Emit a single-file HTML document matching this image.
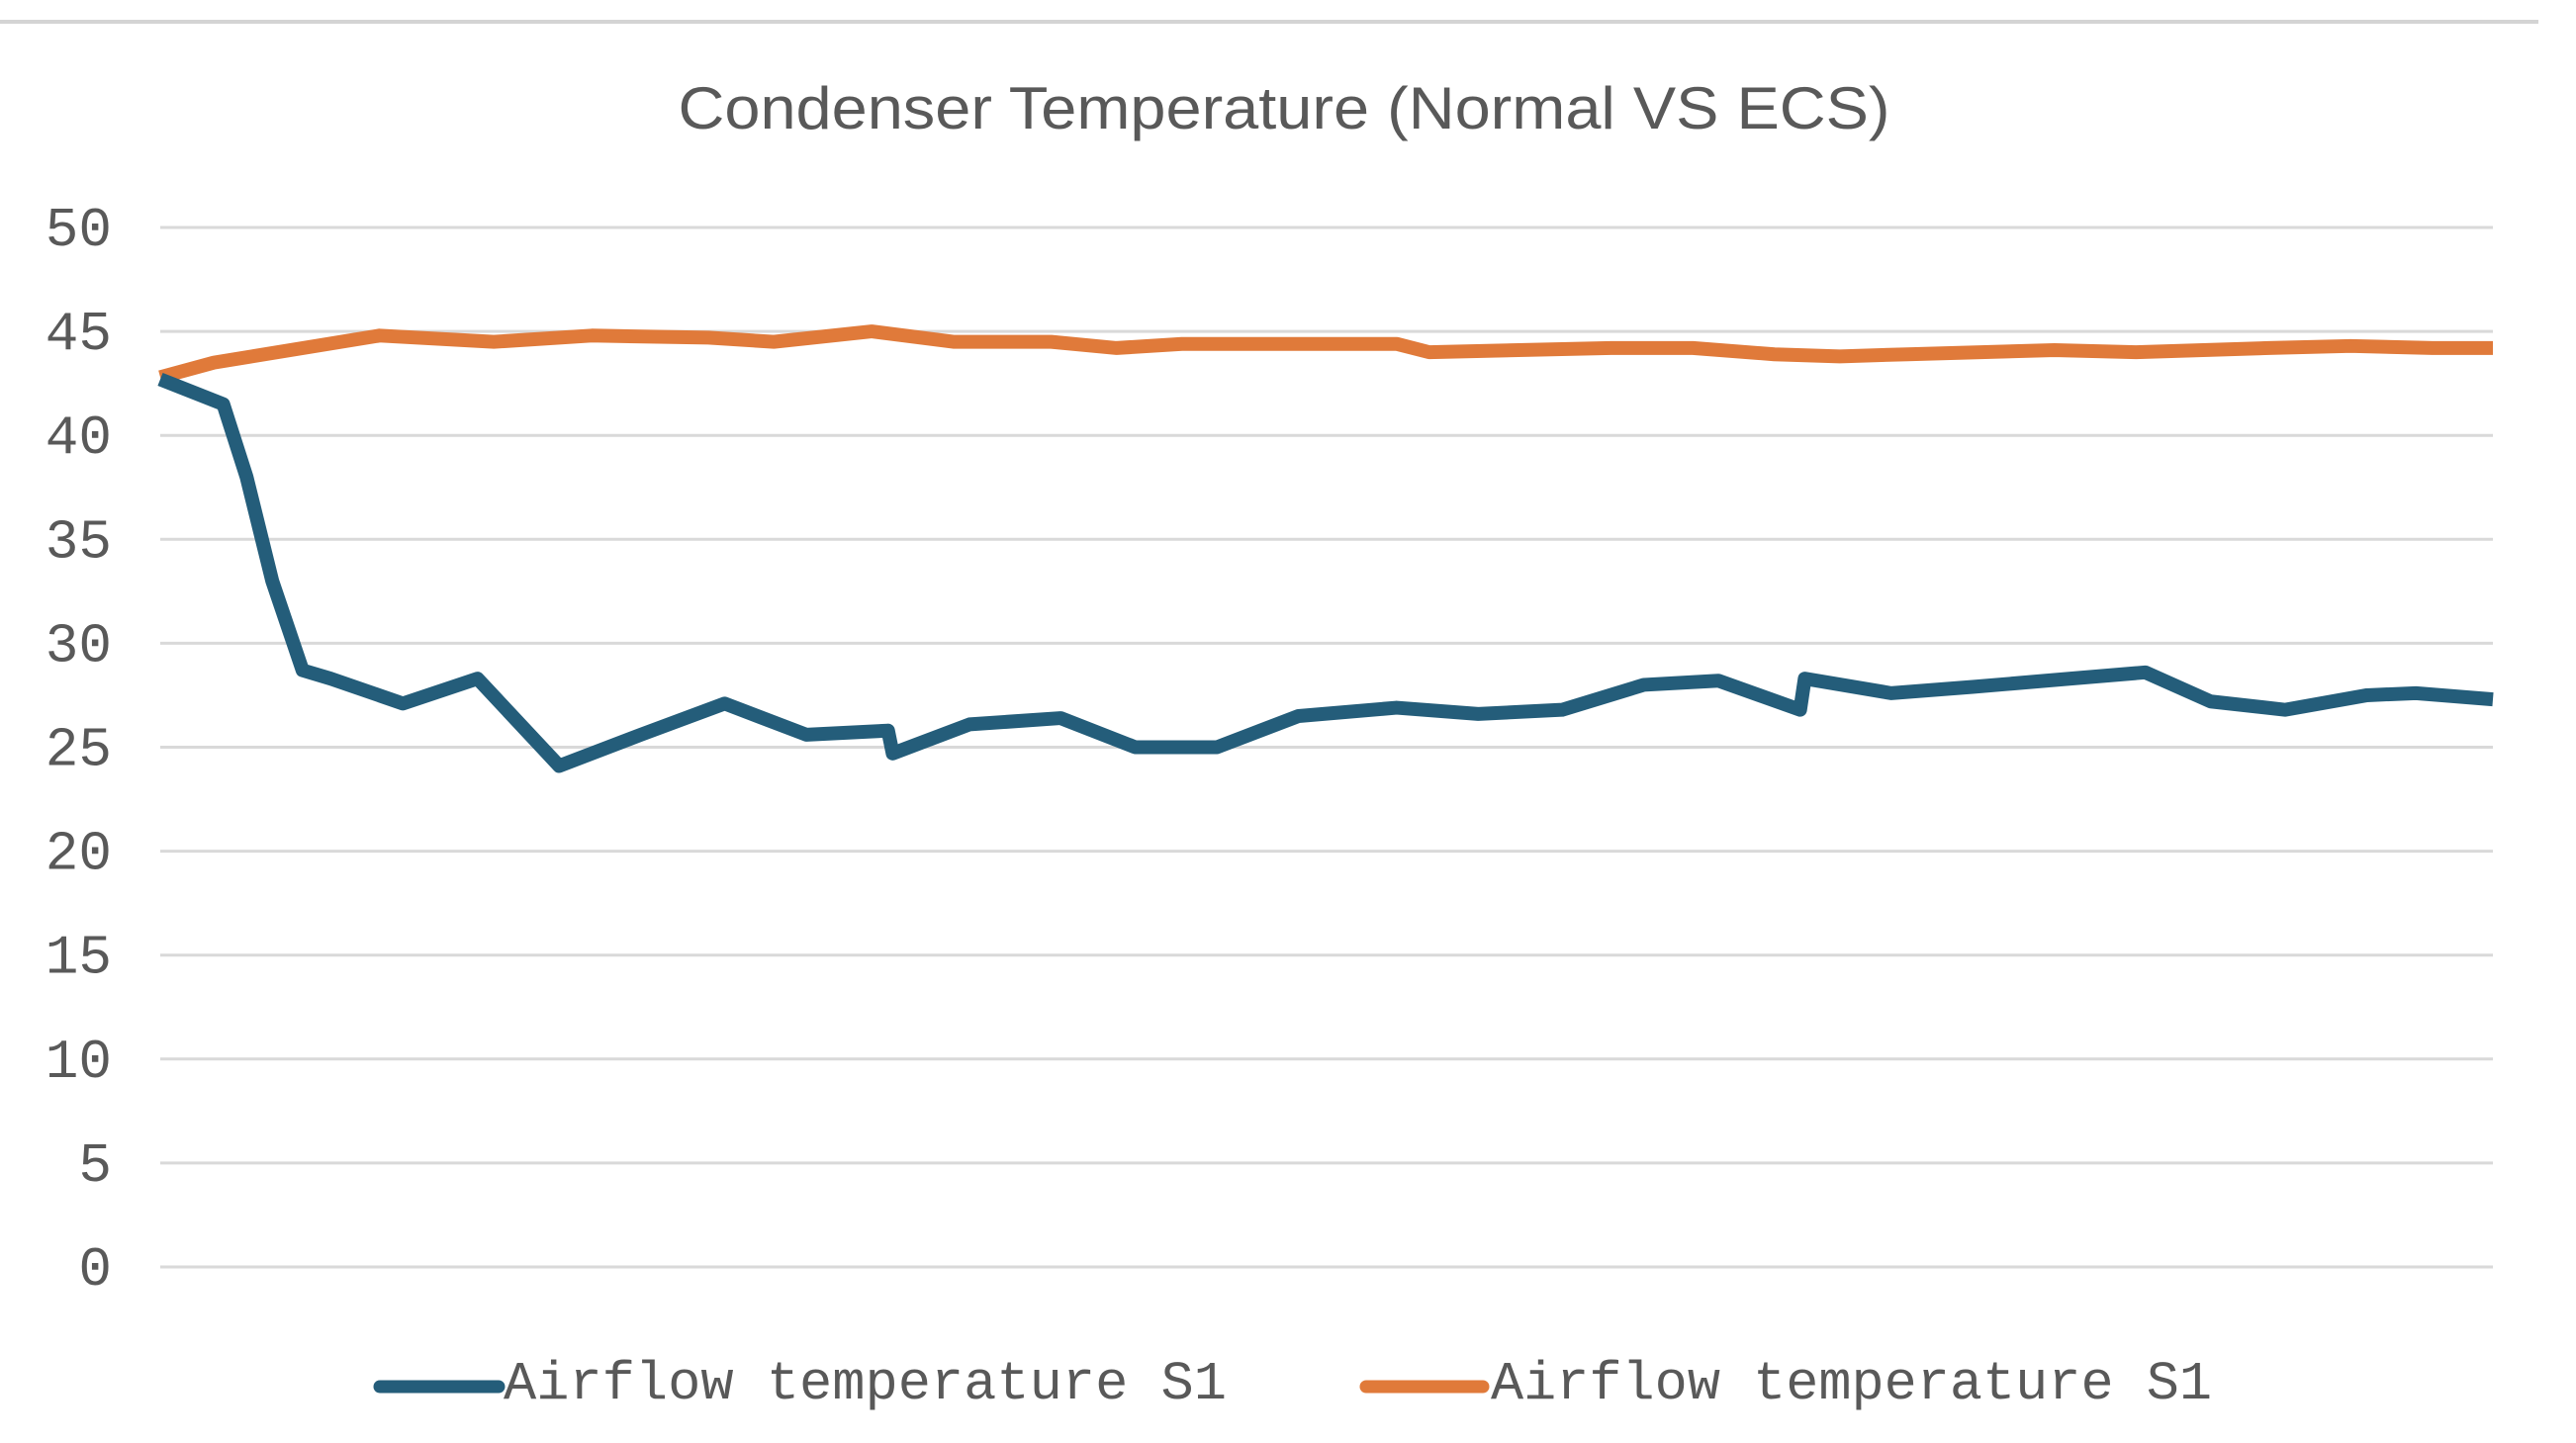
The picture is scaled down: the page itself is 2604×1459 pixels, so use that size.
<!DOCTYPE html>
<html><head><meta charset="utf-8"><style>
html,body{margin:0;padding:0;background:#fff;}
svg{display:block;}
</style></head><body>
<svg id="chart" width="2604" height="1459" viewBox="0 0 2604 1459" xmlns="http://www.w3.org/2000/svg">
<line x1="0" y1="22" x2="2566" y2="22" stroke="#d4d4d4" stroke-width="4"/>
<text x="1298" y="130" text-anchor="middle" font-family="'Liberation Sans', sans-serif" font-size="60" fill="#595959" textLength="1225" lengthAdjust="spacingAndGlyphs">Condenser Temperature (Normal VS ECS)</text>
<g id="grid"></g>
<g id="yticks"></g>
<g id="series"></g>
<g>
  <g>
    <line x1="384" y1="1402" x2="504" y2="1402" stroke="#245d7a" stroke-width="13" stroke-linecap="round"/>
    <text x="509" y="1414" font-family="'Liberation Mono', monospace" font-size="55" fill="#595959" textLength="731" lengthAdjust="spacingAndGlyphs">Airflow temperature S1</text>
  </g>
  <g>
    <line x1="1381" y1="1402" x2="1499" y2="1402" stroke="#e07a3a" stroke-width="13" stroke-linecap="round"/>
    <text x="1507" y="1414" font-family="'Liberation Mono', monospace" font-size="55" fill="#595959" textLength="729" lengthAdjust="spacingAndGlyphs">Airflow temperature S1</text>
  </g>
</g>
</svg>
<script>
const yTicks = [0,5,10,15,20,25,30,35,40,45,50];
const blueT = [0,2.7,3.7,4.8,6.1,7.3,10.4,13.6,17.1,20.6,24.2,27.7,31.2,31.4,34.7,38.6,41.8,45.3,48.8,53.0,56.5,60.1,63.6,66.8,70.3,70.5,74.2,77.7,81.9,85.1,87.9,91.1,94.6,96.7,100];
const blueV = [42.7,41.5,38,33,28.7,28.3,27.1,28.3,24.1,25.6,27.1,25.6,25.8,24.7,26.1,26.4,25.0,25.0,26.5,26.9,26.6,26.8,28.0,28.2,26.8,28.3,27.6,27.9,28.3,28.6,27.2,26.8,27.5,27.6,27.3];
const orangeT = [0,2.3,9.4,14.3,18.5,23.5,26.3,30.5,34.0,38.2,41.0,43.8,53.0,54.4,62.2,65.7,69.2,72.0,74.9,81.2,84.7,90.4,93.9,97.4,100];
const orangeV = [42.8,43.5,44.8,44.5,44.8,44.7,44.5,45.0,44.5,44.5,44.2,44.4,44.4,44.0,44.2,44.2,43.9,43.8,43.9,44.1,44.0,44.2,44.3,44.2,44.2];

const NS="http://www.w3.org/2000/svg";
const X0=162, X1=2520, Y0=1281, Y50=230;
function xs(t){return X0+(X1-X0)*t/100;}
function ys(v){return Y0-(Y0-Y50)*v/50;}
const grid=document.getElementById('grid'), yt=document.getElementById('yticks'), ser=document.getElementById('series');
yTicks.forEach(v=>{
  const l=document.createElementNS(NS,'line');
  l.setAttribute('x1',X0);l.setAttribute('x2',X1);l.setAttribute('y1',ys(v));l.setAttribute('y2',ys(v));
  l.setAttribute('stroke','#d9d9d9');l.setAttribute('stroke-width','3');
  
  
  grid.appendChild(l);
  const t=document.createElementNS(NS,'text');
  t.setAttribute('x',113);t.setAttribute('y',ys(v)+18);t.setAttribute('text-anchor','end');
  t.setAttribute('font-family',"'Liberation Mono', monospace");t.setAttribute('font-size','56');t.setAttribute('fill','#595959');
  t.textContent=v;
  
  
  yt.appendChild(t);
});
function drawLine(T,V,color,name){
  const p=document.createElementNS(NS,'polyline');
  p.setAttribute('points',T.map((t,i)=>xs(t)+','+ys(V[i])).join(' '));
  p.setAttribute('fill','none');p.setAttribute('stroke',color);p.setAttribute('stroke-width','14');
  p.setAttribute('stroke-linejoin','round');
  
  
  ser.appendChild(p);
}
drawLine(orangeT,orangeV,'#e07a3a','orange-series-line');
drawLine(blueT,blueV,'#245d7a','blue-series-line');
</script>
</body></html>
